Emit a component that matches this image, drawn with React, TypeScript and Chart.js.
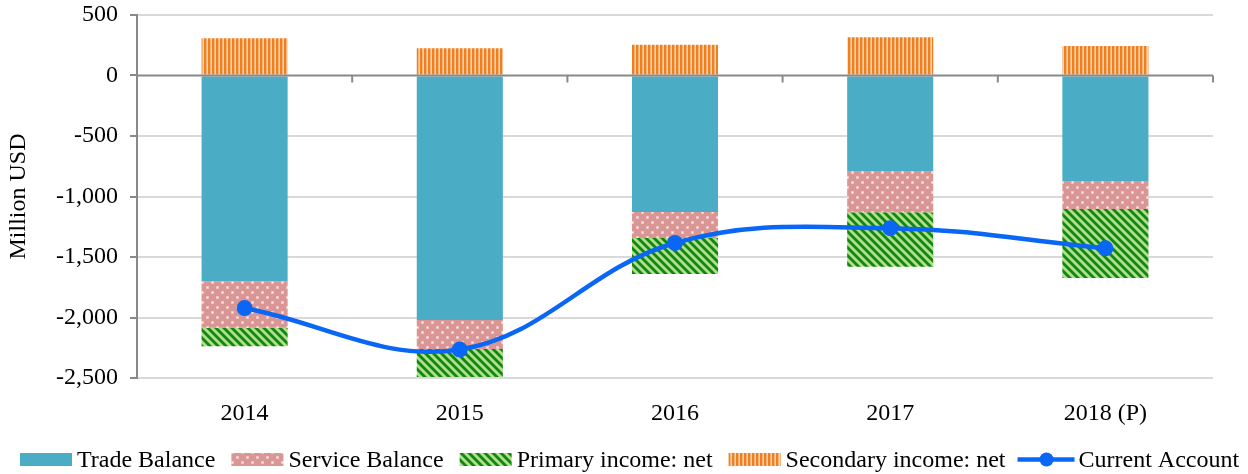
import React, { useEffect, useRef } from "react";
import { Chart, registerables } from "chart.js";

Chart.register(...registerables);

const categories = ["2014", "2015", "2016", "2017", "2018 (P)"];
const tradeBalance = [-1700, -2020, -1128, -790, -872];
const serviceBalance = [-385, -240, -215, -341, -231];
const primaryIncome = [-152, -232, -297, -449, -571];
const secondaryIncome = [308, 226, 255, 316, 243];
const currentAccount = [-1922, -2265, -1384, -1262, -1428];
const yTicks = [500, 0, -500, -1000, -1500, -2000, -2500];

const FONT = "'Liberation Serif', 'Times New Roman', serif";
const FS = 24;

function makeTile(w: number, h: number, draw: (c: CanvasRenderingContext2D) => void) {
  const cv = document.createElement("canvas");
  cv.width = w;
  cv.height = h;
  const c = cv.getContext("2d")!;
  draw(c);
  return cv;
}

function makePatterns(ctx: CanvasRenderingContext2D) {
  const dots = makeTile(10, 10, (c) => {
    c.fillStyle = "#DA9694";
    c.fillRect(0, 0, 10, 10);
    c.fillStyle = "rgba(255,225,225,0.6)";
    c.fillRect(1, 1, 3, 3);
    c.fillRect(6, 6, 3, 3);
    c.fillStyle = "#FFF4F4";
    c.fillRect(2, 2, 1, 1);
    c.fillRect(7, 7, 1, 1);
  });
  const diag = makeTile(8, 8, (c) => {
    c.fillStyle = "#B7DB93";
    c.fillRect(0, 0, 8, 8);
    c.strokeStyle = "#0C8A0C";
    c.lineWidth = 2.8;
    for (const k of [-8, 0, 8]) {
      c.beginPath();
      c.moveTo(k - 2, -2);
      c.lineTo(k + 10, 10);
      c.stroke();
    }
  });
  const vert = makeTile(4, 4, (c) => {
    c.fillStyle = "#FBD5B3";
    c.fillRect(0, 0, 4, 4);
    c.fillStyle = "#F0801E";
    c.fillRect(0, 0, 2, 4);
    c.fillStyle = "#F6B27A";
    c.fillRect(2, 0, 1, 4);
  });
  return {
    service: ctx.createPattern(dots, "repeat")!,
    primary: ctx.createPattern(diag, "repeat")!,
    secondary: ctx.createPattern(vert, "repeat")!,
  };
}

const TRADE = "#4BACC6";
const LINE = "#0A66F5";
const AXIS = "#898989";

export default function App() {
  const ref = useRef<HTMLCanvasElement | null>(null);

  useEffect(() => {
    document.body.style.margin = "0";
    const canvas = ref.current!;
    const ctx = canvas.getContext("2d")!;
    const pats = makePatterns(ctx);

    const legendItems = [
      { label: "Trade Balance", kind: "box", fill: TRADE as any },
      { label: "Service Balance", kind: "box", fill: pats.service as any },
      { label: "Primary income: net", kind: "box", fill: pats.primary as any },
      { label: "Secondary income: net", kind: "box", fill: pats.secondary as any },
      { label: "Current Account", kind: "line", fill: LINE as any },
    ];

    const axisPlugin = {
      id: "zeroAxis",
      afterDatasetsDraw(chart: any) {
        const c = chart.ctx;
        const y = chart.scales.y.getPixelForValue(0);
        const { left, right } = chart.chartArea;
        c.save();
        c.strokeStyle = AXIS;
        c.lineWidth = 2;
        c.beginPath();
        c.moveTo(left, y);
        c.lineTo(right, y);
        const n = categories.length;
        for (let i = 0; i <= n; i++) {
          const x = left + ((right - left) * i) / n;
          c.moveTo(x, y);
          c.lineTo(x, y + 7);
        }
        c.stroke();
        c.restore();
      },
    };

    const legendPlugin = {
      id: "customLegend",
      afterDraw(chart: any) {
        const c = chart.ctx as CanvasRenderingContext2D;
        c.save();
        c.font = `${FS}px ${FONT}`;
        c.textBaseline = "middle";
        c.fillStyle = "#000";
        const yc = 459.5;
        let x = 20;
        for (const it of legendItems) {
          if (it.kind === "box") {
            c.fillStyle = it.fill;
            c.fillRect(x, yc - 6.5, 52, 13);
          } else {
            c.strokeStyle = LINE;
            c.lineWidth = 4.5;
            c.beginPath();
            c.moveTo(x - 4, yc);
            c.lineTo(x + 53, yc);
            c.stroke();
            c.fillStyle = LINE;
            c.beginPath();
            c.arc(x + 25, yc, 7, 0, Math.PI * 2);
            c.fill();
          }
          x += 57;
          c.fillStyle = "#000";
          c.fillText(it.label, x, yc + 1);
          x += c.measureText(it.label).width + 16;
        }
        c.restore();
      },
    };

    const chart = new Chart(ctx, {
      type: "bar",
      data: {
        labels: categories,
        datasets: [
          {
            type: "line",
            label: "Current Account",
            data: currentAccount,
            borderColor: LINE,
            backgroundColor: LINE,
            borderWidth: 4.5,
            pointRadius: 8,
            pointBackgroundColor: LINE,
            pointBorderWidth: 0,
            tension: 0.38,
            stack: "line",
            order: 0,
          } as any,
          {
            label: "Trade Balance",
            data: tradeBalance,
            backgroundColor: TRADE,
            stack: "bars",
            order: 1,
          },
          {
            label: "Service Balance",
            data: serviceBalance,
            backgroundColor: pats.service as any,
            stack: "bars",
            order: 1,
          },
          {
            label: "Primary income: net",
            data: primaryIncome,
            backgroundColor: pats.primary as any,
            stack: "bars",
            order: 1,
          },
          {
            label: "Secondary income: net",
            data: secondaryIncome,
            backgroundColor: pats.secondary as any,
            stack: "bars",
            order: 1,
          },
        ],
      },
      options: {
        responsive: false,
        animation: false,
        devicePixelRatio: 1,
        layout: { padding: { top: 15, right: 35, bottom: 46, left: 0 } },
        datasets: { bar: { categoryPercentage: 1, barPercentage: 0.4 } },
        plugins: { legend: { display: false }, tooltip: { enabled: false } },
        scales: {
          x: {
            stacked: true,
            grid: { display: false },
            border: { display: false },
            ticks: { font: { family: FONT, size: FS }, color: "#000", padding: 13 },
            afterFit: (s: any) => {
              s.height = 50;
            },
          },
          y: {
            stacked: true,
            min: -2500,
            max: 500,
            afterBuildTicks: (s: any) => {
              s.ticks = yTicks.map((v) => ({ value: v }));
            },
            grid: {
              color: (c: any) => (c.tick && c.tick.value === 0 ? "rgba(0,0,0,0)" : "#D9D9D9"),
              lineWidth: 2,
              drawTicks: true,
              tickLength: 7,
              tickColor: AXIS,
            },
            border: { display: true, color: AXIS, width: 2 },
            ticks: {
              font: { family: FONT, size: FS },
              color: "#000",
              padding: 12,
              callback: (v: any) => Number(v).toLocaleString("en-US"),
            },
            title: {
              display: true,
              text: "Million USD",
              font: { family: FONT, size: FS },
              color: "#000",
              padding: { top: 4, bottom: 0 },
            },
            afterFit: (s: any) => {
              s.width = 137;
              s.paddingTop = 0;
              s.paddingBottom = 0;
            },
          },
        },
      },
      plugins: [axisPlugin, legendPlugin],
    });
    return () => chart.destroy();
  }, []);

  return (
    <div style={{ position: "absolute", left: 0, top: 0, width: 1248, height: 474 }}>
      <canvas ref={ref} width={1248} height={474} style={{ width: 1248, height: 474 }} />
    </div>
  );
}
